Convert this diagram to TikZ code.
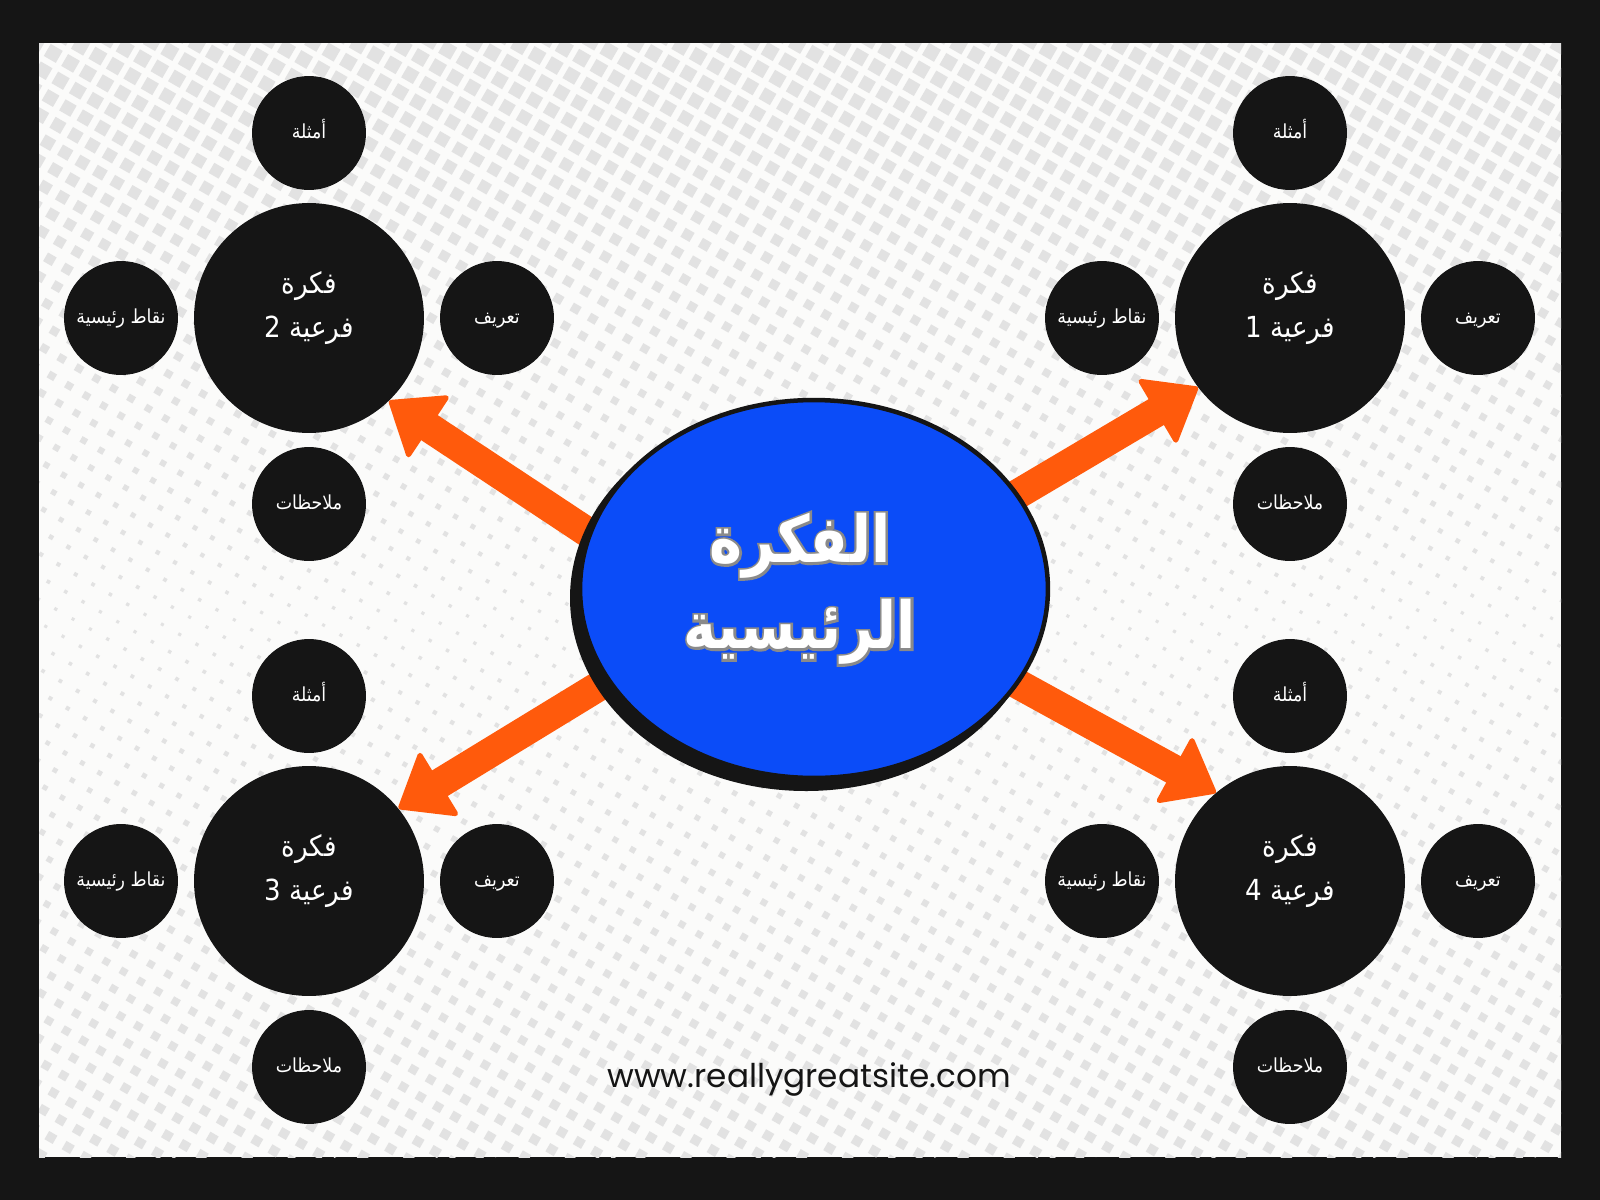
\documentclass[tikz,border=0pt]{standalone}
\usepackage{fontspec}
\usepackage{xcolor}
\usetikzlibrary{arrows.meta,shapes.geometric}
\setmainfont{Poppins}
\newfontfamily\arabicfont[Script=Arabic,FakeStretch=0.9]{DejaVu Sans}
\newfontfamily\arabicmainw[Script=Arabic,FakeStretch=0.86]{DejaVu Sans Bold}
\newfontfamily\arabicmainol[Script=Arabic,FakeStretch=0.86,FakeBold=7]{DejaVu Sans Bold}
\TeXXeTstate=1
\definecolor{frame}{HTML}{151515}
\definecolor{paper}{HTML}{FBFBFA}
\definecolor{dotc}{HTML}{E2E2E2}
\definecolor{ink}{HTML}{151515}
\definecolor{bluef}{HTML}{0B4CF8}
\definecolor{orng}{HTML}{FF5A0C}
\definecolor{ctgray}{HTML}{8A8A8A}
\newlength\olwidth
\newcommand\outlinedline[1]{\settowidth\olwidth{\arabicmainw\mdseries\upshape\beginR #1\endR}%
  \leavevmode\rlap{\hbox to\olwidth{\hss\textcolor{ctgray}{\arabicmainol\mdseries\upshape\beginR #1\endR}\hss}}%
  {\arabicmainw\mdseries\upshape\beginR #1\endR}}
\pgfdeclarelayer{pat}
\pgfdeclarelayer{arr}
\pgfsetlayers{pat,arr,main}
\tikzset{
  bigc/.style={circle, fill=ink, minimum size=4.6cm, inner sep=0pt},
  smallc/.style={circle, fill=ink, minimum size=2.28cm, inner sep=0pt, text=white,
    text height=8pt, text depth=2pt,
    font=\arabicfont\fontsize{11}{13}\selectfont},
  bigt/.style={text=white, align=center, inner sep=0pt,
    font=\arabicfont\fontsize{16.5}{24.5}\selectfont},
  mainell/.style={ellipse, fill=bluef, draw=ink, line width=0.09cm,
    minimum width=9.36cm, minimum height=7.56cm, inner sep=0pt},
  maintxt/.style={text=white, align=center, inner sep=0pt,
    font=\fontsize{37}{49}\selectfont},
  webt/.style={text=ink, inner sep=0pt, font=\fontsize{18.6}{22}\selectfont},
  arrowst/.style={draw=orng, line width=0.6cm, shorten <=-0.7cm,
    -{Triangle[length=1.0cm, width=1.55cm, line width=0.1cm, round]}}
}
\begin{document}
\begin{tikzpicture}[x=0.02cm, y=-0.02cm]
\useasboundingbox (0,0) rectangle (1600,1200);
\begin{pgfonlayer}{pat}
  \fill[frame] (0,0) rectangle (1600,1200);
  \fill[paper] (39,43) rectangle (1561,1157);
  \begin{scope}
    \clip (39,43) rectangle (1561,1157);
    \begin{scope}[shift={(800,600)}, rotate=-30]
      \foreach \u in {-47,...,47}{
        \foreach \v in {-43,...,43}{
          \pgfmathsetmacro\hh{0.5*(3+max(0.0192*(20-10*\u-17.32*\v),0.0125*(10*\u+17.32*\v-20)))}
          \fill[dotc] (20*\u-\hh,20*\v-\hh) rectangle (20*\u+\hh,20*\v+\hh);
        }}
    \end{scope}
  \end{scope}
\end{pgfonlayer}

% main idea
\fill[ink] (806,598) ellipse [x radius=236, y radius=193];
\node[mainell] (main) at (814,589) {};
\node[maintxt] (maint) at (800,589) {\outlinedline{الفكرة}\\\outlinedline{الرئيسية}};

% sub idea 1 (top right)
\node[bigc] (s1) at (1290,318) {};
\node[bigt] (s1t) at (1290,308) {\beginR فكرة\endR\\\beginR فرعية 1\endR};
\node[smallc] (s1a) at (1290,133) {\beginR أمثلة\endR};
\node[smallc] (s1b) at (1478,318) {\beginR تعريف\endR};
\node[smallc] (s1c) at (1290,504) {\beginR ملاحظات\endR};
\node[smallc] (s1d) at (1102,318) {\beginR نقاط رئيسية\endR};

% sub idea 2 (top left)
\node[bigc] (s2) at (309,318) {};
\node[bigt] (s2t) at (309,308) {\beginR فكرة\endR\\\beginR فرعية 2\endR};
\node[smallc] (s2a) at (309,133) {\beginR أمثلة\endR};
\node[smallc] (s2b) at (497,318) {\beginR تعريف\endR};
\node[smallc] (s2c) at (309,504) {\beginR ملاحظات\endR};
\node[smallc] (s2d) at (121,318) {\beginR نقاط رئيسية\endR};

% sub idea 3 (bottom left)
\node[bigc] (s3) at (309,881) {};
\node[bigt] (s3t) at (309,871) {\beginR فكرة\endR\\\beginR فرعية 3\endR};
\node[smallc] (s3a) at (309,696) {\beginR أمثلة\endR};
\node[smallc] (s3b) at (497,881) {\beginR تعريف\endR};
\node[smallc] (s3c) at (309,1067) {\beginR ملاحظات\endR};
\node[smallc] (s3d) at (121,881) {\beginR نقاط رئيسية\endR};

% sub idea 4 (bottom right)
\node[bigc] (s4) at (1290,881) {};
\node[bigt] (s4t) at (1290,871) {\beginR فكرة\endR\\\beginR فرعية 4\endR};
\node[smallc] (s4a) at (1290,696) {\beginR أمثلة\endR};
\node[smallc] (s4b) at (1478,881) {\beginR تعريف\endR};
\node[smallc] (s4c) at (1290,1067) {\beginR ملاحظات\endR};
\node[smallc] (s4d) at (1102,881) {\beginR نقاط رئيسية\endR};

\node[webt] (web) at (809,1079) {www.reallygreatsite.com};

\begin{pgfonlayer}{arr}
  \draw[arrowst] (main.25) -- (s1.217);
  \draw[arrowst] (main.166) -- (s2.-46);
  \draw[arrowst] (main.204) -- (s3.39);
  \draw[arrowst] (main.-25) -- (s4.130);
\end{pgfonlayer}
\end{tikzpicture}
\end{document}
